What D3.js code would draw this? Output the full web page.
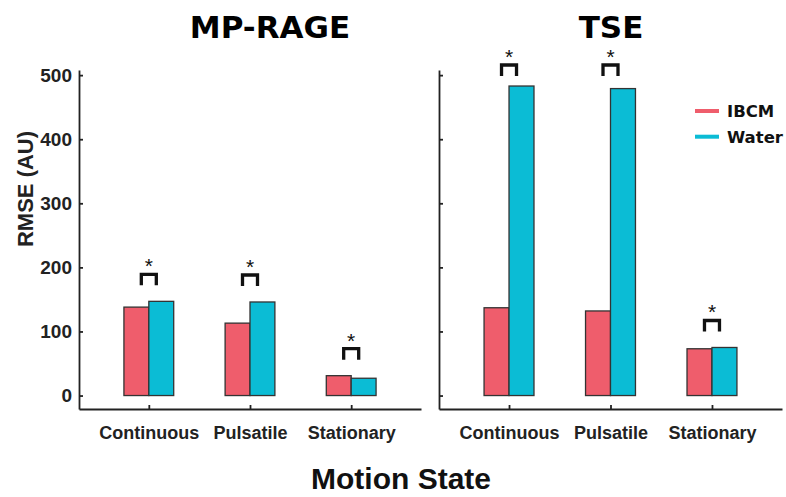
<!DOCTYPE html>
<html>
<head>
<meta charset="utf-8">
<script src="https://cdn.jsdelivr.net/npm/d3@7"></script>
<style>
  body { margin: 0; background: #fff; }
  svg { display: block; }
</style>
</head>
<body>
<div id="chart"></div>
<script>
// datos
var categories = ["Continuous", "Pulsatile", "Stationary"];
var seriesNames = ["IBCM", "Water"];
var panelTitles = ["MP-RAGE", "TSE"];
var mprageIBCM = [138, 113, 31];
var mprageWater = [147, 146, 27];
var tseIBCM = [137, 132, 73];
var tseWater = [483, 479, 75];
var yTicks = [0, 100, 200, 300, 400, 500];
var sigMprage = [true, true, true];
var sigTse = [true, true, true];

var colors = { IBCM: "#ef5d6c", Water: "#0bbcd5" };
var sans = "'Liberation Sans', Arial, sans-serif";
var wide = "'DejaVu Sans', Verdana, sans-serif";

var W = 786, H = 497;
var svg = d3.select("#chart").append("svg").attr("width", W).attr("height", H);

var panels = [
  { title: panelTitles[0], ibcm: mprageIBCM, water: mprageWater, sig: sigMprage, x0: 79, x1: 421, titleX: 270, labels: true },
  { title: panelTitles[1], ibcm: tseIBCM, water: tseWater, sig: sigTse, x0: 439, x1: 782, titleX: 611, labels: false }
];

var plotTop = 70, plotBottom = 409;
var y = d3.scaleLinear().domain([-21, 508]).range([plotBottom, plotTop]);

panels.forEach(function(p) {
  var x = d3.scaleLinear().domain([0.31, 3.69]).range([p.x0, p.x1]);
  var bw = x(1.246) - x(1);
  var g = svg.append("g");

  // ejes
  var yAxis = d3.axisLeft(y).tickValues(yTicks).tickSizeInner(-4).tickSizeOuter(0).tickPadding(7);
  if (!p.labels) yAxis.tickFormat("");
  var ya = g.append("g").attr("transform", "translate(" + p.x0 + ",0)").call(yAxis);
  ya.attr("font-family", sans).attr("font-size", 19).attr("font-weight", "bold");
  ya.selectAll("text").attr("fill", "#222");

  var xAxis = d3.axisBottom(x).tickValues([1, 2, 3]).tickSizeInner(-4).tickSizeOuter(0)
    .tickFormat(function(i) { return categories[i - 1]; });
  var xa = g.append("g").attr("transform", "translate(0," + plotBottom + ")").call(xAxis);
  xa.attr("font-family", sans).attr("font-size", 18).attr("font-weight", "bold");
  xa.selectAll("text").attr("y", 30).attr("dy", 0).attr("fill", "#222");

  g.selectAll(".domain, .tick line").attr("stroke", "#222").attr("stroke-width", 1.8);

  // barras
  var rows = categories.map(function(c, i) {
    return { i: i + 1, IBCM: p.ibcm[i], Water: p.water[i], sig: p.sig[i] };
  });
  seriesNames.forEach(function(s, k) {
    g.selectAll(".bar-" + s).data(rows).enter().append("rect")
      .attr("x", function(d) { return k === 0 ? x(d.i) - bw : x(d.i); })
      .attr("y", function(d) { return y(d[s]); })
      .attr("width", bw)
      .attr("height", function(d) { return y(0) - y(d[s]); })
      .attr("fill", colors[s])
      .attr("stroke", "#333")
      .attr("stroke-width", 1.3);
  });

  // significancia
  rows.filter(function(d) { return d.sig; }).forEach(function(d) {
    var cx = x(d.i);
    var by = Math.max(y(Math.max(d.IBCM, d.Water)) - 27, 65);
    g.append("path")
      .attr("d", "M" + (cx - 7.5) + "," + (by + 11) + "V" + by + "H" + (cx + 7.5) + "V" + (by + 11))
      .attr("fill", "none").attr("stroke", "#111").attr("stroke-width", 3.3);
    g.append("text").attr("x", cx).attr("y", by - 1)
      .attr("text-anchor", "middle")
      .attr("font-family", sans)
      .attr("font-size", 21).attr("fill", "#111").text("*");
  });

  // titulo
  svg.append("text").attr("x", p.titleX).attr("y", 37.5)
    .attr("text-anchor", "middle")
    .attr("font-family", wide)
    .attr("font-weight", "bold").attr("font-size", 31)
    .text(p.title);
});

// etiquetas de ejes
svg.append("text").attr("transform", "translate(33,189) rotate(-90)")
  .attr("text-anchor", "middle")
  .attr("font-family", sans)
  .attr("font-weight", "bold").attr("font-size", 22).attr("fill", "#222")
  .text("RMSE (AU)");

svg.append("text").attr("x", 401).attr("y", 489)
  .attr("text-anchor", "middle")
  .attr("font-family", sans)
  .attr("font-weight", "bold").attr("font-size", 30).attr("fill", "#111")
  .text("Motion State");

// leyenda
var legend = svg.append("g");
seriesNames.forEach(function(s, k) {
  var ly = 111 + k * 25.7;
  legend.append("line").attr("x1", 695).attr("x2", 719).attr("y1", ly).attr("y2", ly)
    .attr("stroke", colors[s]).attr("stroke-width", 4);
  legend.append("text").attr("x", 727).attr("y", ly + 6)
    .attr("font-family", wide)
    .attr("font-weight", "bold").attr("font-size", 16.5).attr("fill", "#111")
    .text(s);
});
</script>
</body>
</html>
